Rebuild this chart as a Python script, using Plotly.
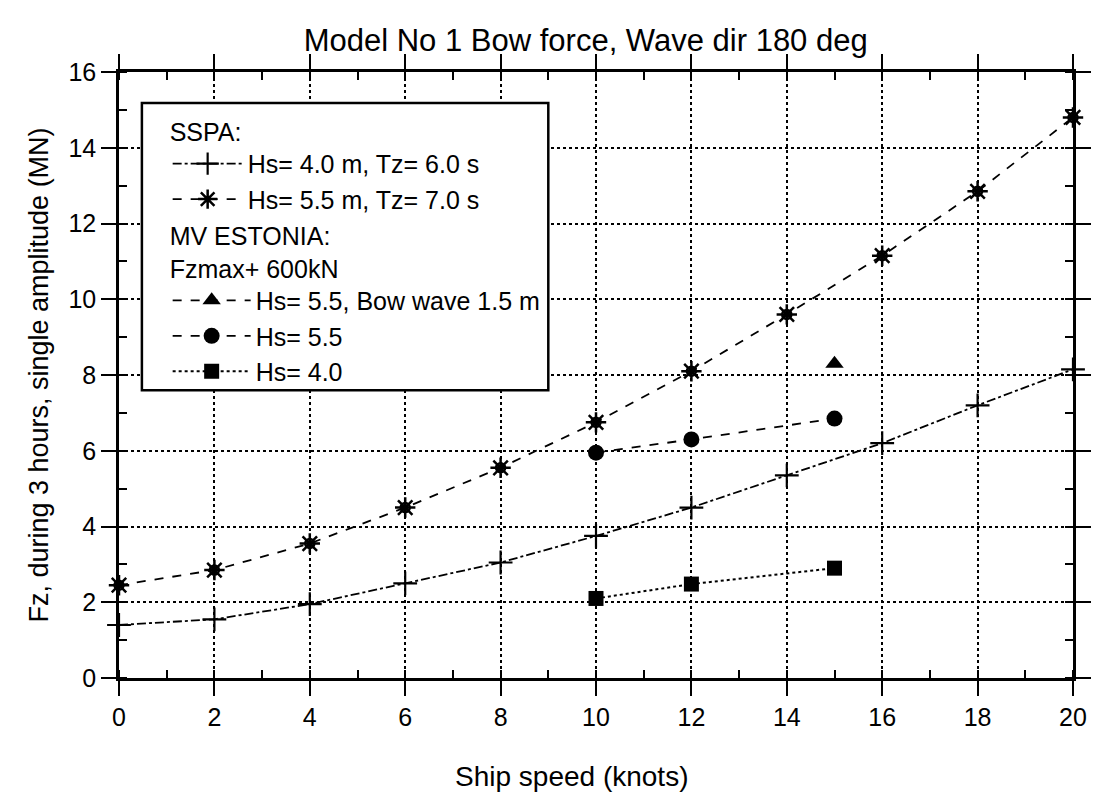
import plotly.graph_objects as go

speed_sspa = [0, 2, 4, 6, 8, 10, 12, 14, 16, 18, 20]
fz_sspa_hs40 = [1.4, 1.55, 1.95, 2.5, 3.05, 3.75, 4.5, 5.35, 6.2, 7.2, 8.15]
fz_sspa_hs55 = [2.45, 2.85, 3.55, 4.5, 5.55, 6.75, 8.1, 9.6, 11.15, 12.85, 14.8]

speed_est = [10, 12, 15]
fz_est_hs55 = [5.95, 6.3, 6.85]
fz_est_hs40 = [2.1, 2.48, 2.9]

speed_bow = [15]
fz_est_bow = [8.3]

x_ticks = list(range(0, 21, 2))
y_ticks = list(range(0, 17, 2))

FONT = "Liberation Sans, Arial, sans-serif"

fig = go.Figure()

fig.add_trace(go.Scatter(
    x=speed_sspa, y=fz_sspa_hs40, mode="lines+markers",
    name="Hs= 4.0 m, Tz= 6.0 s", legend="legend",
    line=dict(color="black", width=1.8, dash="dashdot"),
    marker=dict(symbol="cross-thin", size=17, color="black", line=dict(color="black", width=2.2)),
    cliponaxis=False))
fig.add_trace(go.Scatter(
    x=speed_sspa, y=fz_sspa_hs55, mode="lines+markers",
    name="Hs= 5.5 m, Tz= 7.0 s", legend="legend",
    line=dict(color="black", width=1.8, dash="dash"),
    marker=dict(symbol="asterisk-open", size=17, color="black", line=dict(color="black", width=2.5)),
    cliponaxis=False))
fig.add_trace(go.Scatter(
    x=speed_sspa, y=fz_sspa_hs55, mode="markers", showlegend=False, hoverinfo="skip",
    marker=dict(symbol="circle-open", size=9, color="black", line=dict(color="black", width=2.5)),
    cliponaxis=False))
fig.add_trace(go.Scatter(
    x=speed_bow, y=fz_est_bow, mode="lines+markers",
    name="Hs= 5.5, Bow wave 1.5 m", legend="legend2",
    line=dict(color="black", width=1.8, dash="dash"),
    marker=dict(symbol="triangle-up", size=16, color="black"),
    cliponaxis=False))
fig.add_trace(go.Scatter(
    x=speed_est, y=fz_est_hs55, mode="lines+markers",
    name="Hs= 5.5", legend="legend2",
    line=dict(color="black", width=1.8, dash="dash"),
    marker=dict(symbol="circle", size=16, color="black"),
    cliponaxis=False))
fig.add_trace(go.Scatter(
    x=speed_est, y=fz_est_hs40, mode="lines+markers",
    name="Hs= 4.0", legend="legend2",
    line=dict(color="black", width=2, dash="dot"),
    marker=dict(symbol="square", size=15, color="black"),
    cliponaxis=False))

axis_common = dict(
    showline=True, linecolor="black", linewidth=2.5, mirror="ticks",
    ticks="outside", ticklen=15, tickwidth=2.2, tickcolor="black",
    showgrid=True, gridcolor="black", gridwidth=1.8, griddash="dot",
    zeroline=False,
    tickfont=dict(family=FONT, size=25, color="black"),
    minor=dict(ticks="inside", ticklen=8, tickwidth=2.2, tickcolor="black",
               dtick=1, showgrid=False),
)

fig.update_xaxes(range=[0, 20], tickvals=x_ticks, ticktext=[str(v) for v in x_ticks],
                 **axis_common)
fig.update_yaxes(range=[0, 16], tickvals=y_ticks, ticktext=[str(v) for v in y_ticks],
                 title=dict(text="Fz, during 3 hours, single amplitude (MN)",
                            font=dict(family=FONT, size=27, color="black"), standoff=12),
                 **axis_common)

legend_font = dict(family=FONT, size=25, color="black")
fig.update_layout(
    width=1103, height=795,
    margin=dict(l=119, r=27, t=72, b=117),
    paper_bgcolor="white", plot_bgcolor="white",
    title=dict(text="Model No 1 Bow force, Wave dir 180 deg", x=0.531, xanchor="center",
               y=0.95, yanchor="middle",
               font=dict(family=FONT, size=31, color="black")),
    legend=dict(x=0.051, y=0.94, xanchor="left", yanchor="top",
                bgcolor="rgba(0,0,0,0)", borderwidth=0, font=legend_font,
                title=dict(text="SSPA:", font=legend_font), itemwidth=70,
                tracegroupgap=0),
    legend2=dict(x=0.051, y=0.768, xanchor="left", yanchor="top",
                 bgcolor="rgba(0,0,0,0)", borderwidth=0, font=legend_font,
                 title=dict(text="MV ESTONIA:<br>Fzmax+ 600kN", font=legend_font), itemwidth=78,
                 tracegroupgap=0),
    shapes=[dict(type="rect", xref="paper", yref="paper", x0=0.024, x1=0.450, y0=0.475, y1=0.949,
                 fillcolor="white", line=dict(color="black", width=2.5), layer="above")],
    annotations=[dict(text="Ship speed (knots)", xref="paper", yref="paper",
                      x=0.474, y=-0.162, xanchor="center", yanchor="middle", showarrow=False,
                      font=dict(family=FONT, size=28, color="black"))],
)

fig.write_html("out.html")
